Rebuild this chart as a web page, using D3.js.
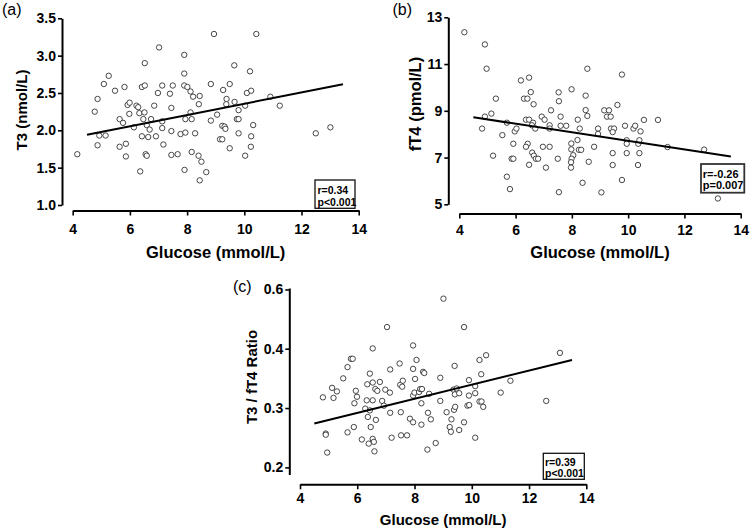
<!DOCTYPE html>
<html>
<head>
<meta charset="utf-8">
<script src="https://cdn.jsdelivr.net/npm/d3@7"></script>
<style>
  html, body { margin: 0; padding: 0; background: #fff; }
  svg { display: block; }
  text { font-family: "Liberation Sans", Arial, sans-serif; }
</style>
</head>
<body>
<svg id="chart" width="756" height="531"></svg>
<script>
// ---------------- DATA ----------------
const xTicks = [4, 6, 8, 10, 12, 14];

// Panel (a): Glucose vs T3
const glucoseA = [4.16,4.77,4.87,4.87,4.93,5.15,5.09,5.26,5.48,5.64,5.76,5.81,5.64,5.86,5.86,5.92,5.99,5.98,6.14,6.23,6.29,6.33,6.36,6.42,6.42,6.52,6.52,6.47,6.51,6.55,6.59,6.59,6.64,6.69,6.74,6.85,6.91,6.98,7.02,7.13,7.13,7.13,7.17,7.40,7.45,7.45,7.45,7.50,7.67,7.77,7.90,7.90,7.90,7.91,7.94,7.94,8.01,8.12,8.12,8.16,8.16,8.21,8.28,8.40,8.41,8.44,8.44,8.50,8.67,8.83,8.83,8.94,9.05,9.15,9.23,9.23,9.26,9.31,9.34,9.37,9.38,9.49,9.49,9.65,9.66,9.74,9.80,9.80,9.80,10.03,10.03,10.09,10.20,10.23,10.24,10.24,10.31,10.42,10.91,11.24,12.50,13.01];
const t3 = [1.68,2.25,2.42,1.80,1.93,1.93,2.62,2.73,2.53,2.15,2.10,2.58,1.78,1.82,1.65,2.34,2.37,2.22,2.04,2.33,2.31,2.23,1.45,1.92,2.58,2.60,2.90,2.15,2.24,1.68,1.66,2.07,1.91,2.01,2.15,2.33,1.92,2.50,3.11,2.60,2.12,2.03,1.81,2.49,2.30,1.99,1.67,2.60,1.68,1.95,2.76,3.01,2.60,1.47,1.97,2.15,2.58,2.52,2.24,1.71,2.15,2.45,1.96,1.66,2.35,2.46,1.33,1.58,1.44,2.13,2.62,3.29,2.21,1.88,1.88,2.06,2.54,2.05,2.02,2.35,2.42,2.62,1.76,2.87,2.38,2.15,2.27,1.96,2.15,2.33,1.66,2.50,2.79,1.78,2.53,1.92,2.07,3.29,2.45,2.33,1.96,2.04];
const t3Ticks = [1.0, 1.5, 2.0, 2.5, 3.0, 3.5];
const fitA = { intercept: 1.60, slope: 0.0756, from: 4.5, to: 13.45 };
const statsA = ["r=0.34", "p<0.001"];

// Panel (b): Glucose vs fT4
const glucoseB = [4.18,4.91,4.97,4.81,4.91,5.14,5.30,5.20,5.53,5.69,5.69,5.80,5.86,5.92,5.92,5.97,6.03,6.19,6.30,6.42,6.48,6.54,6.37,6.48,6.64,6.62,6.58,6.70,6.43,6.37,6.59,6.65,6.72,6.80,6.48,6.93,7.03,6.97,7.08,7.26,7.21,7.21,7.21,7.53,7.54,7.60,7.60,7.50,7.54,7.80,7.99,7.98,7.98,8.05,7.99,7.97,7.97,8.21,8.28,8.20,8.25,8.33,8.38,8.55,8.49,8.49,8.55,8.60,8.79,8.93,8.93,9.05,9.15,9.25,9.32,9.38,9.39,9.50,9.45,9.62,9.45,9.45,9.78,9.78,9.89,9.95,9.95,9.95,10.19,10.25,10.44,10.56,10.36,10.40,10.40,10.35,11.06,11.40,12.70,13.19];
const ft4 = [12.36,11.84,10.80,8.24,8.75,8.88,9.52,7.08,7.96,8.49,6.18,5.65,6.95,6.95,7.59,8.12,8.24,10.30,9.52,9.52,10.42,9.80,8.62,8.62,9.28,8.49,8.38,8.24,7.59,7.46,7.21,7.08,6.95,6.95,6.69,8.75,8.62,7.46,6.57,9.02,8.38,8.24,7.46,9.79,9.41,8.75,8.36,6.95,5.52,8.36,9.92,7.60,7.35,7.10,6.95,6.80,6.57,8.62,8.24,7.75,7.33,7.33,5.92,10.80,9.65,9.03,8.78,6.82,7.46,8.24,8.01,5.51,9.02,8.75,9.02,8.75,8.24,8.24,8.09,9.25,7.19,6.68,6.04,10.55,8.36,7.74,7.59,7.19,8.24,8.36,8.12,8.61,7.59,7.74,7.19,6.68,8.61,7.45,7.34,5.25];
const ft4Ticks = [5, 7, 9, 11, 13];
const fitB = { intercept: 9.545, slope: -0.183, from: 4.5, to: 13.65 };
const statsB = ["r=-0.26", "p=0.007"];

// Panel (c): Glucose vs T3/fT4 ratio
const glucoseC = [4.80,4.90,4.90,4.95,5.12,5.17,5.29,5.51,5.66,5.66,5.78,5.84,5.88,5.90,5.95,5.99,6.16,6.28,6.33,6.35,6.37,6.40,6.44,6.44,6.47,6.54,6.54,6.54,6.54,6.58,6.60,6.63,6.65,6.70,6.79,6.87,6.93,6.98,7.04,7.14,7.15,7.15,7.20,7.48,7.50,7.52,7.53,7.59,7.57,7.74,7.84,7.95,7.95,7.95,7.95,8.00,8.02,8.07,8.16,8.20,8.26,8.30,8.34,8.24,8.24,8.51,8.47,8.45,8.57,8.74,8.90,8.90,9.01,9.12,9.23,9.29,9.36,9.38,9.40,9.41,9.42,9.47,9.56,9.56,9.27,9.73,9.73,9.90,9.90,9.85,9.91,10.12,10.12,10.12,10.27,10.27,10.34,10.33,10.40,10.50,11.01,11.35,12.60,13.08];
const ratio = [0.318,0.257,0.255,0.225,0.334,0.317,0.328,0.350,0.369,0.259,0.383,0.383,0.268,0.308,0.329,0.319,0.247,0.299,0.313,0.340,0.285,0.240,0.358,0.296,0.268,0.401,0.313,0.343,0.248,0.243,0.227,0.332,0.280,0.329,0.344,0.312,0.304,0.331,0.473,0.326,0.365,0.292,0.250,0.375,0.339,0.293,0.254,0.346,0.336,0.254,0.282,0.411,0.366,0.321,0.276,0.326,0.349,0.381,0.327,0.332,0.332,0.361,0.359,0.308,0.272,0.324,0.292,0.230,0.281,0.241,0.351,0.312,0.569,0.293,0.268,0.281,0.331,0.297,0.371,0.323,0.302,0.333,0.325,0.263,0.260,0.473,0.276,0.347,0.321,0.304,0.305,0.337,0.325,0.250,0.381,0.311,0.311,0.357,0.302,0.389,0.326,0.346,0.312,0.393];
const ratioTicks = [0.2, 0.3, 0.4, 0.6];
const fitC = { intercept: 0.2205, slope: 0.01189, from: 4.5, to: 13.5 };
const statsC = ["r=0.39", "p<0.001"];

const xTitle = "Glucose (mmol/L)";

// ---------------- LAYOUT ----------------
const panels = [
  { label: "(a)", labelX: 2, labelY: 15,
    xs: glucoseA, ys: t3, fit: fitA, stats: statsA, yTicks: t3Ticks, yFmt: d3.format(".1f"),
    yTitle: "T3 (nmol/L)", yTitleSize: 15, xTitleSize: 16.5,
    x: d3.scaleLinear().domain([4, 14]).range([72.7, 358.7]),
    y: d3.scaleLinear().domain([1.0, 3.5]).range([205, 18.3]),
    xAxisY: 210.5, yAxisX: 62, xPad: 9, yTitleX: 22, yTitleY: 110, xTitleY: 258,
    box: { x: 315, y: 180, w: 40, h: 28.3, tx: 317.5, t1: 194.3, t2: 205.8, fs: 10.5, stroke: "#111", sw: 1.3 } },
  { label: "(b)", labelX: 392.5, labelY: 15,
    xs: glucoseB, ys: ft4, fit: fitB, stats: statsB, yTicks: ft4Ticks, yFmt: d3.format("d"),
    yTitle: "fT4 (pmol/L)", yTitleSize: 16.5, xTitleSize: 16.5,
    x: d3.scaleLinear().domain([4, 14]).range([459.3, 740.7]),
    y: d3.scaleLinear().domain([5, 13]).range([204.3, 17.3]),
    xAxisY: 213.5, yAxisX: 448.3, xPad: 6.5, yTitleX: 415, yTitleY: 104, xTitleY: 258,
    box: { x: 701, y: 164, w: 43.3, h: 28.7, tx: 702.8, t1: 177.5, t2: 188.8, fs: 11, stroke: "#333", sw: 1.8 } },
  { label: "(c)", labelX: 233, labelY: 292,
    xs: glucoseC, ys: ratio, fit: fitC, stats: statsC, yTicks: ratioTicks, yFmt: d3.format(".1f"),
    yTitle: "T3 / fT4 Ratio", yTitleSize: 15, xTitleSize: 15,
    x: d3.scaleLinear().domain([4, 14]).range([300, 586.3]),
    // segmented axis as in the original: 0.4–0.6 segment compressed
    y: d3.scaleLinear().domain([0.188, 0.4, 0.605]).range([474.5, 348.7, 288]),
    xAxisY: 484.3, yAxisX: 289.3, xPad: 4, yTitleX: 251.7, yTitleY: 377, xTitleY: 525,
    box: { x: 543.3, y: 453.3, w: 41, h: 26, tx: 545, t1: 465.8, t2: 476.8, fs: 10.5, stroke: "#111", sw: 1.3 } }
];

const svg = d3.select("#chart");

panels.forEach(p => {
  const g = svg.append("g");

  // Y axis
  const yAxis = d3.axisLeft(p.y).tickValues(p.yTicks).tickFormat(p.yFmt)
    .tickSizeOuter(0).tickSizeInner(4).tickPadding(2);
  const gy = g.append("g").attr("transform", `translate(${p.yAxisX},0)`).call(yAxis);
  gy.select(".domain").attr("stroke", "#000").attr("stroke-width", 2);
  gy.selectAll(".tick line").attr("stroke", "#000").attr("stroke-width", 1.6);
  gy.selectAll(".tick text").attr("fill", "#000").attr("font-size", 14).attr("font-weight", "bold")
    .attr("font-family", "'Liberation Sans', Arial, sans-serif");

  // X axis
  const xAxis = d3.axisBottom(p.x).tickValues(xTicks).tickFormat(d3.format("d"))
    .tickSizeOuter(0).tickSizeInner(5).tickPadding(p.xPad);
  const gx = g.append("g").attr("transform", `translate(0,${p.xAxisY})`).call(xAxis);
  gx.select(".domain").attr("stroke", "#000").attr("stroke-width", 2);
  gx.selectAll(".tick line").attr("stroke", "#000").attr("stroke-width", 1.6);
  gx.selectAll(".tick text").attr("fill", "#000").attr("font-size", 14).attr("font-weight", "bold")
    .attr("font-family", "'Liberation Sans', Arial, sans-serif");

  // Axis titles
  g.append("text")
    .attr("transform", `translate(${p.yTitleX},${p.yTitleY}) rotate(-90)`)
    .attr("text-anchor", "middle").attr("dy", "0.35em")
    .attr("font-size", p.yTitleSize).attr("font-weight", "bold").attr("fill", "#000")
    .text(p.yTitle);
  const xr = p.x.range();
  g.append("text")
    .attr("x", (xr[0] + xr[1]) / 2).attr("y", p.xTitleY)
    .attr("text-anchor", "middle")
    .attr("font-size", p.xTitleSize).attr("font-weight", "bold").attr("fill", "#000")
    .text(xTitle);

  // Panel label
  g.append("text").attr("x", p.labelX).attr("y", p.labelY)
    .attr("font-size", 16).attr("fill", "#000").text(p.label);

  // Points
  const pts = p.xs.map((v, i) => [v, p.ys[i]]);
  g.append("g").selectAll("circle").data(pts).join("circle")
    .attr("cx", d => p.x(d[0])).attr("cy", d => p.y(d[1]))
    .attr("r", 2.7).attr("fill", "#fff").attr("stroke", "#333").attr("stroke-width", 0.9);

  // Regression line
  const f = p.fit;
  const linePts = [f.from, f.to].map(xv => [xv, f.intercept + f.slope * xv]);
  g.append("path").datum(linePts)
    .attr("d", d3.line().x(d => p.x(d[0])).y(d => p.y(d[1])))
    .attr("stroke", "#000").attr("stroke-width", 2).attr("fill", "none");

  // Stats box
  const b = p.box;
  g.append("rect").attr("x", b.x).attr("y", b.y).attr("width", b.w).attr("height", b.h)
    .attr("fill", "#fff").attr("stroke", b.stroke).attr("stroke-width", b.sw);
  g.append("text").attr("x", b.tx).attr("y", b.t1).attr("font-size", b.fs)
    .attr("font-weight", "bold").attr("fill", "#000").text(p.stats[0]);
  g.append("text").attr("x", b.tx).attr("y", b.t2).attr("font-size", b.fs)
    .attr("font-weight", "bold").attr("fill", "#000").text(p.stats[1]);
});
</script>
</body>
</html>
